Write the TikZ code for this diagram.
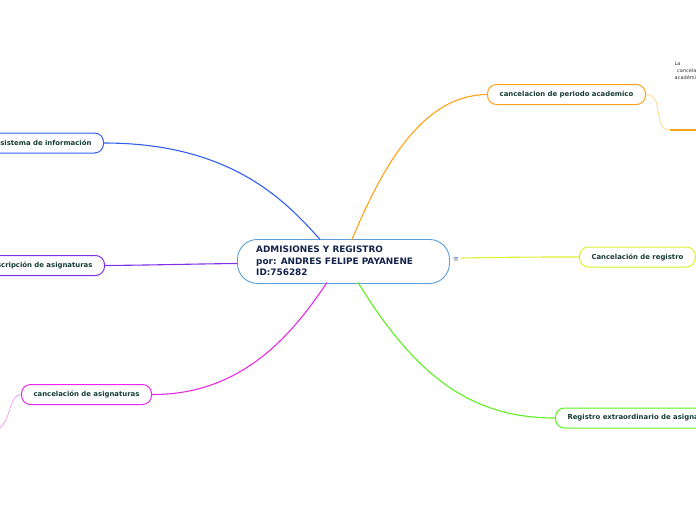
\documentclass[tikz,border=0pt]{standalone}
\usepackage{fontspec}
\setmainfont{DejaVu Sans}
\definecolor{cblue}{HTML}{2F5FF0}
\definecolor{cpurple}{HTML}{8030E8}
\definecolor{cmag}{HTML}{E82AE8}
\definecolor{cmaglt}{HTML}{F4A0F4}
\definecolor{corange}{HTML}{FFA218}
\definecolor{corangelt}{HTML}{FFD590}
\definecolor{cyellow}{HTML}{DDF030}
\definecolor{cgreen}{HTML}{5CF020}
\definecolor{ccenter}{HTML}{5A9FD8}
\definecolor{ctext}{HTML}{163C34}
\definecolor{cnavy}{HTML}{14234A}
\tikzset{
  topic/.style={draw, rounded corners=9pt, line width=1pt, fill=white, text=ctext,
    font=\fontsize{6.9}{8}\selectfont\bfseries, minimum height=20pt, inner xsep=12pt, inner ysep=0pt},
  conn/.style={line width=1.1pt},
}
\begin{document}
\begin{tikzpicture}[x=1pt,y=-1pt]
\useasboundingbox (0,0) rectangle (696,520);
\clip (0,0) rectangle (696,520);
% central
\node[draw=ccenter, line width=0.9pt, rounded corners=20pt, fill=white, minimum width=212pt, minimum height=44pt,
      anchor=north west, inner sep=0pt] (c) at (237,239) {};
\node[anchor=west, align=left, text=cnavy, font=\fontsize{8.9}{11.6}\selectfont\bfseries, inner sep=0pt] (ct) at (256,261)
  {ADMISIONES Y REGISTRO\\por: ANDRES FELIPE PAYANENE\\ID:756282};
\node[text=ccenter!70!black, font=\fontsize{7}{8}\selectfont, inner sep=0pt] (eq) at (456,260) {≡};
% topics
\node[topic, draw=cblue, anchor=east] (sis) at (104,143) {sistema de información};
\node[topic, draw=cpurple, anchor=east] (ins) at (105,265.5) {inscripción de asignaturas};
\node[topic, draw=cmag, anchor=west, minimum width=130pt] (can) at (21,394.5) {cancelación de asignaturas};
\node[topic, draw=corange, anchor=west, minimum width=158pt] (per) at (487,94.5) {cancelacion de periodo academico};
\node[topic, draw=cyellow, anchor=west, minimum width=115pt] (reg) at (579,257) {Cancelación de registro};
\node[topic, draw=cgreen, anchor=west, minimum width=170pt] (ext) at (555,418) {Registro extraordinario de asignaturas};
% anchor coordinates on centre
\coordinate (cs) at (320,239.5);
\coordinate (cp) at (352,239.5);
\coordinate (cm) at (327,282.5);
\coordinate (cg) at (358,282.5);
\coordinate (cw) at (237,263.5);
\coordinate (ce) at (461,258);
% connectors
\draw[conn, cblue] (sis.east) .. controls (230,143) and (285,200) .. (cs);
\draw[conn, cpurple] (ins.east) .. controls (160,265) and (190,264) .. (cw);
\draw[conn, cmag] (can.east) .. controls (245,395) and (295,330) .. (cm);
\draw[conn, corange] (cp) .. controls (385,160) and (425,95) .. (per.west);
\draw[conn, cgreen] (cg) .. controls (415,375) and (470,418) .. (ext.west);
\draw[conn, cyellow] (ce) .. controls (520,257) and (540,257) .. (reg.west);
% sub branches
\coordinate (pc) at (670,130);
\coordinate (pe) at (700,130);
\draw[line width=0.8pt, corangelt] (per.east) .. controls (665,95) and (652,130) .. (pc);
\draw[line width=1.6pt, corange] (pc) -- (pe);
\coordinate (mc) at (-3,430);
\draw[line width=0.8pt, cmaglt] (can.west) .. controls (8,395) and (12,422) .. (mc);
% clipped note
\node[anchor=north west, align=left, inner sep=0pt, text=black!80, font=\fontsize{5}{7}\selectfont] (note) at (674.5,61.5)
  {La\\\hspace{2.5pt}cancelación\\académico};
\end{tikzpicture}
\end{document}
